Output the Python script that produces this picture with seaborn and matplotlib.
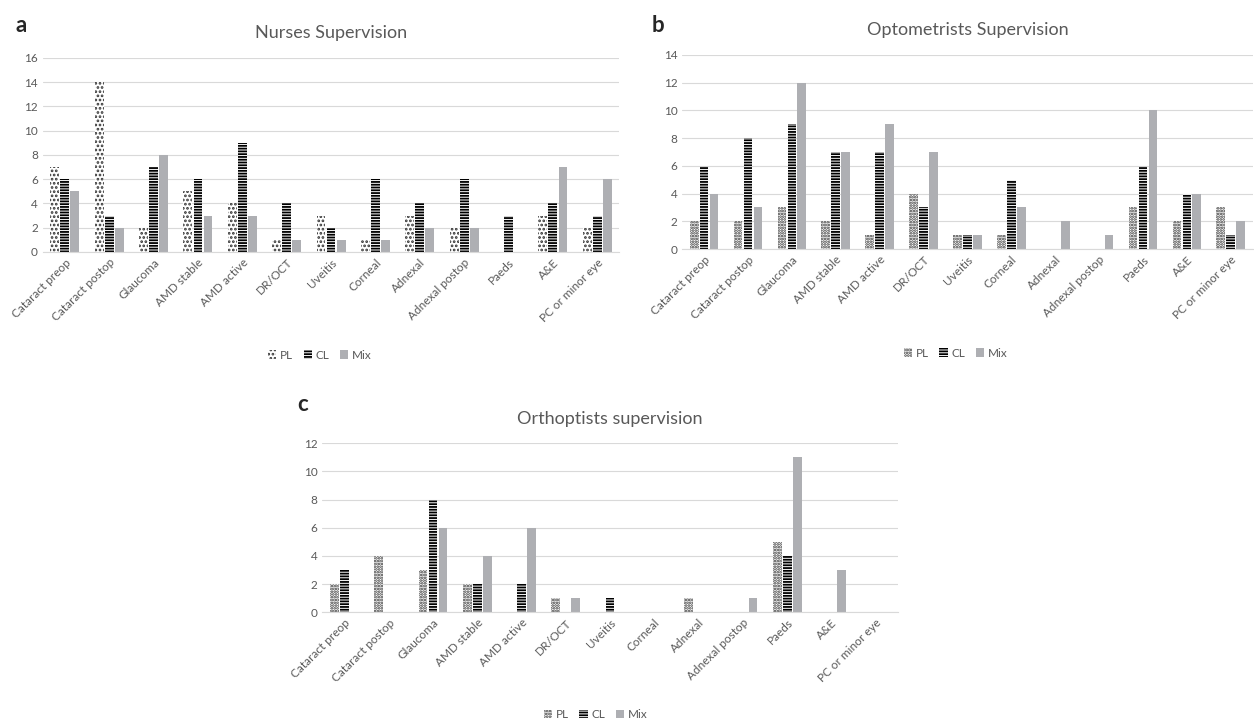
import pandas as pd
import matplotlib.pyplot as plt
import seaborn as sns
from matplotlib.patches import Patch

# categorias e séries
categorias = ['Cataract preop', 'Cataract postop', 'Glaucoma', 'AMD stable', 'AMD active',
              'DR/OCT', 'Uveitis', 'Corneal', 'Adnexal', 'Adnexal postop', 'Paeds', 'A&E',
              'PC or minor eye']
series = ['PL', 'CL', 'Mix']

# Nurses
nurses_pl = [7, 14, 2, 5, 4, 1, 3, 1, 3, 2, 0, 3, 2]
nurses_cl = [6, 3, 7, 6, 9, 4, 2, 6, 4, 6, 3, 4, 3]
nurses_mix = [5, 2, 8, 3, 3, 1, 1, 1, 2, 2, 0, 7, 6]

# Optometrists
optom_pl = [2, 2, 3, 2, 1, 4, 1, 1, 0, 0, 3, 2, 3]
optom_cl = [6, 8, 9, 7, 7, 3, 1, 5, 0, 0, 6, 4, 1]
optom_mix = [4, 3, 12, 7, 9, 7, 1, 3, 2, 1, 10, 4, 2]

# Orthoptists
ortho_pl = [2, 4, 3, 2, 0, 1, 0, 0, 1, 0, 5, 0, 0]
ortho_cl = [3, 0, 8, 2, 2, 0, 1, 0, 0, 0, 4, 0, 0]
ortho_mix = [0, 0, 6, 4, 6, 1, 0, 0, 0, 1, 11, 3, 0]

sns.set_style('white')
plt.rcParams['font.family'] = ['Lato', 'DejaVu Sans']
plt.rcParams['hatch.linewidth'] = 1.3

CINZA = '#AEAFB3'
TEXTO = '#595959'
GRADE = '#D9D9D9'

fig = plt.figure(figsize=(12.54, 7.22), dpi=100)

paineis = [
    # letra, titulo, dados, ymax, [left, bottom, width, height], pos letra, pos legenda, hatch PL
    ('a', 'Nurses Supervision', (nurses_pl, nurses_cl, nurses_mix), 16,
     [0.034, 0.651, 0.460, 0.269], (0.012, 0.965), (0.255, 0.508), '....'),
    ('b', 'Optometrists Supervision', (optom_pl, optom_cl, optom_mix), 14,
     [0.544, 0.655, 0.455, 0.269], (0.52, 0.965), (0.762, 0.511), '......'),
    ('c', 'Orthoptists supervision', (ortho_pl, ortho_cl, ortho_mix), 12,
     [0.257, 0.152, 0.459, 0.234], (0.237, 0.44), (0.475, 0.010), '......'),
]

for letra, titulo, (pl, cl, mix), ymax, rect, pos_letra, pos_leg, hatch_pl in paineis:
    df = pd.DataFrame({
        'categoria': categorias * 3,
        'serie': ['PL'] * 13 + ['CL'] * 13 + ['Mix'] * 13,
        'valor': pl + cl + mix,
    })
    ax = fig.add_axes(rect)
    sns.barplot(data=df, x='categoria', y='valor', hue='serie', hue_order=series,
                palette=['white', 'white', CINZA], width=0.68, gap=0.12,
                legend=False, ax=ax)

    # padrões das barras
    for barra in ax.containers[0]:
        barra.set_facecolor('white')
        barra.set_hatch(hatch_pl)
        barra.set_edgecolor('#333333')
        barra.set_linewidth(0)
    for barra in ax.containers[1]:
        barra.set_facecolor('white')
        barra.set_hatch('------')
        barra.set_edgecolor('black')
        barra.set_linewidth(0)
    for barra in ax.containers[2]:
        barra.set_facecolor(CINZA)
        barra.set_linewidth(0)

    ax.set_ylim(0, ymax)
    ax.set_yticks(range(0, ymax + 1, 2))
    ax.set_xlim(-0.5, 12.5)
    ax.grid(axis='y', color=GRADE, linewidth=0.8)
    ax.set_axisbelow(True)
    sns.despine(ax=ax, left=True, top=True, right=True)
    ax.spines['bottom'].set_color(GRADE)
    ax.tick_params(length=0, colors=TEXTO, labelsize=8.5)
    ax.set_xticks(range(13))
    ax.set_xticklabels(categorias, rotation=45, ha='right', rotation_mode='anchor')
    ax.set_xlabel('')
    ax.set_ylabel('')
    ax.set_title(titulo, color=TEXTO, fontsize=13, pad=14)

    fig.text(pos_letra[0], pos_letra[1], letra, fontsize=16, fontweight='bold',
             ha='left', va='center')

    handles = [Patch(facecolor='white', hatch=hatch_pl, edgecolor='#333333', linewidth=0),
               Patch(facecolor='white', hatch='------', edgecolor='black', linewidth=0),
               Patch(facecolor=CINZA, linewidth=0)]
    leg = ax.legend(handles, series, loc='center', bbox_to_anchor=pos_leg,
                    bbox_transform=fig.transFigure, ncol=3, frameon=False,
                    fontsize=8.5, handlelength=0.7, handleheight=0.7,
                    handletextpad=0.3, columnspacing=0.9)
    for t in leg.get_texts():
        t.set_color(TEXTO)

fig.savefig('out.png', dpi=100, facecolor='white')
